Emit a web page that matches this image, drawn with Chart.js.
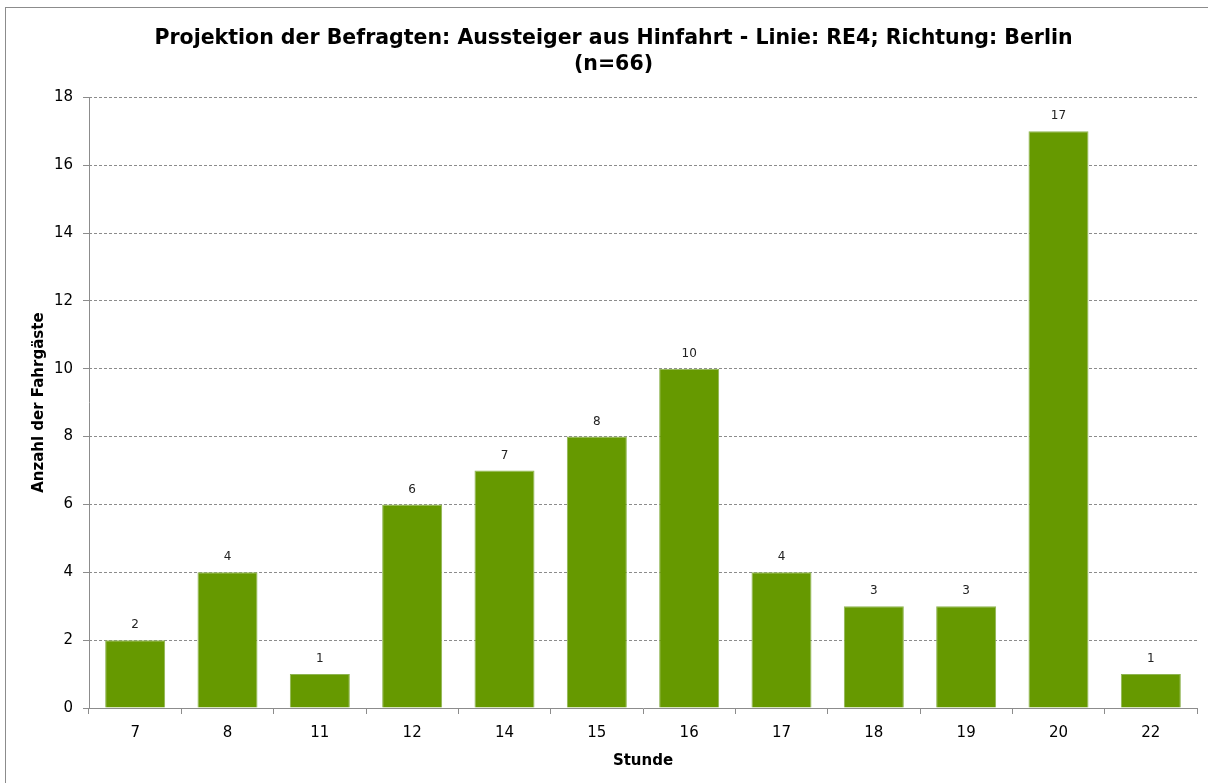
<!DOCTYPE html>
<html>
<head>
<meta charset="utf-8">
<script src="https://cdn.jsdelivr.net/npm/chart.js@4/dist/chart.umd.min.js"></script>
<style>
  html, body { margin: 0; padding: 0; background: #fff; }
  #wrap { width: 1208px; height: 783px; position: relative; }
</style>
</head>
<body>
<div id="wrap"><canvas id="chart"></canvas></div>
<script>
const hours = ['7', '8', '11', '12', '14', '15', '16', '17', '18', '19', '20', '22'];
const passengers = [2, 4, 1, 6, 7, 8, 10, 4, 3, 3, 17, 1];
const yTicks = [0, 2, 4, 6, 8, 10, 12, 14, 16, 18];

const fontFamily = '"DejaVu Sans", Verdana, sans-serif';

// white background and the outer frame
const framePlugin = {
  id: 'frame',
  beforeDraw(chart) {
    const ctx = chart.ctx;
    ctx.save();
    ctx.fillStyle = '#fff';
    ctx.fillRect(0, 0, chart.width, chart.height);
    ctx.strokeStyle = '#8c8c8c';
    ctx.lineWidth = 1;
    ctx.strokeRect(5.5, 7.5, chart.width + 10, chart.height + 10);
    ctx.restore();
  }
};

// solid y axis line (the grid dash would otherwise apply to it too)
const solidYAxis = {
  id: 'solidYAxis',
  afterDraw(chart) {
    const area = chart.chartArea;
    const ctx = chart.ctx;
    ctx.save();
    ctx.strokeStyle = '#8c8c8c';
    ctx.lineWidth = 1;
    ctx.beginPath();
    ctx.moveTo(Math.round(area.left) + 0.5, area.top);
    ctx.lineTo(Math.round(area.left) + 0.5, area.bottom);
    ctx.stroke();
    ctx.restore();
  }
};

// value labels above every bar
const valueLabels = {
  id: 'valueLabels',
  afterDatasetsDraw(chart) {
    const ctx = chart.ctx;
    ctx.save();
    ctx.font = '12px ' + fontFamily;
    ctx.fillStyle = '#222';
    ctx.textAlign = 'center';
    ctx.textBaseline = 'bottom';
    chart.getDatasetMeta(0).data.forEach((bar, i) => {
      ctx.fillText(passengers[i], bar.x, bar.y - 9);
    });
    ctx.restore();
  }
};

new Chart(document.getElementById('chart'), {
  type: 'bar',
  data: {
    labels: hours,
    datasets: [{
      label: 'Anzahl der Fahrgäste',
      data: passengers,
      backgroundColor: '#669900',
      borderColor: '#8fb552',
      borderWidth: 1,
      categoryPercentage: 1,
      barPercentage: 0.65
    }]
  },
  options: {
    responsive: true,
    maintainAspectRatio: false,
    animation: false,
    layout: { padding: { left: 30, right: 11, top: 19, bottom: 13 } },
    plugins: {
      legend: { display: false },
      tooltip: { enabled: false },
      title: {
        display: true,
        text: ['Projektion der Befragten: Aussteiger aus Hinfahrt - Linie: RE4; Richtung: Berlin', '(n=66)'],
        color: '#000',
        font: { family: fontFamily, size: 20.5, weight: 'bold', lineHeight: 1.3 },
        padding: { top: 6, bottom: 19 }
      }
    },
    scales: {
      x: {
        grid: {
          display: true,
          drawOnChartArea: false,
          drawTicks: true,
          tickLength: 6,
          color: '#8c8c8c',
          offset: true
        },
        border: { color: '#8c8c8c' },
        ticks: { color: '#000', font: { family: fontFamily, size: 15 }, padding: 10 },
        title: {
          display: true,
          text: 'Stunde',
          color: '#000',
          font: { family: fontFamily, size: 15, weight: 'bold' },
          padding: { top: 4, bottom: 0 }
        },
        afterFit(scale) { scale.height = 62; }
      },
      y: {
        min: 0,
        max: 18,
        afterBuildTicks(scale) { scale.ticks = yTicks.map(v => ({ value: v })); },
        grid: {
          color: '#8c8c8c',
          tickLength: 6,
          drawTicks: true
        },
        border: { display: false, dash: [3, 2] },
        ticks: { color: '#000', font: { family: fontFamily, size: 15 }, padding: 10 },
        title: {
          display: true,
          text: 'Anzahl der Fahrgäste',
          color: '#000',
          font: { family: fontFamily, size: 15, weight: 'bold' },
          padding: { top: 0, bottom: 0 }
        },
        afterFit(scale) { scale.width = 59; }
      }
    }
  },
  plugins: [framePlugin, valueLabels, solidYAxis]
});
</script>
</body>
</html>
